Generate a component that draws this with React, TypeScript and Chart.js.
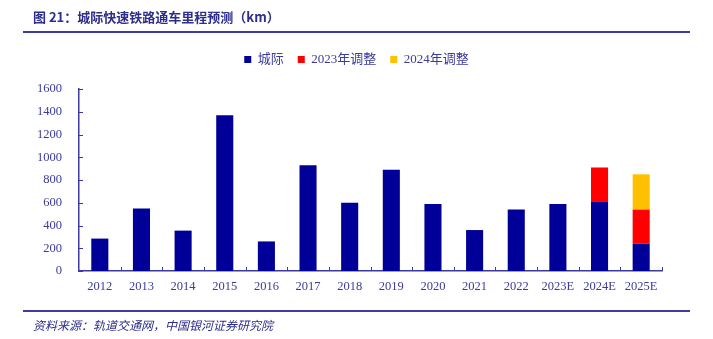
import React, { useEffect, useRef } from "react";
import { Chart, registerables } from "chart.js";

Chart.register(...registerables);

const categories = ["2012", "2013", "2014", "2015", "2016", "2017", "2018", "2019", "2020", "2021", "2022", "2023E", "2024E", "2025E"];
const intercity = [285, 550, 355, 1370, 260, 930, 600, 890, 590, 360, 540, 590, 610, 240];
const adjust2023 = [null, null, null, null, null, null, null, null, null, null, null, null, 300, 300];
const adjust2024 = [null, null, null, null, null, null, null, null, null, null, null, null, null, 310];
const seriesNames = ["城际", "2023年调整", "2024年调整"];
const yTicks = [0, 200, 400, 600, 800, 1000, 1200, 1400, 1600];

const AXIS = "#3a3aa0";
const TEXT = "#3b3b9a";
const FONT = "'Liberation Serif', 'Noto Sans CJK SC', serif";

const innerTicks = {
  id: "innerTicks",
  afterDraw(chart: any) {
    const { ctx, chartArea } = chart;
    const x = chart.scales.x;
    const y = chart.scales.y;
    ctx.save();
    ctx.strokeStyle = AXIS;
    ctx.lineWidth = 1;
    ctx.beginPath();
    yTicks.forEach((v) => {
      const py = Math.round(y.getPixelForValue(v)) + 0.5;
      ctx.moveTo(chartArea.left, py);
      ctx.lineTo(chartArea.left + 4, py);
    });
    const half = (x.getPixelForValue(1) - x.getPixelForValue(0)) / 2;
    for (let i = 0; i < categories.length; i++) {
      const px = Math.round(x.getPixelForValue(i) + half) + 0.5;
      ctx.moveTo(px, chartArea.bottom);
      ctx.lineTo(px, chartArea.bottom - 4);
    }
    ctx.stroke();
    ctx.restore();
  },
};

export default function App() {
  const ref = useRef<HTMLCanvasElement | null>(null);
  useEffect(() => {
    if (!ref.current) return;
    const chart = new Chart(ref.current, {
      type: "bar",
      data: {
        labels: categories,
        datasets: [
          { label: seriesNames[0], data: intercity, backgroundColor: "#000099" },
          { label: seriesNames[1], data: adjust2023 as any, backgroundColor: "#ff0000" },
          { label: seriesNames[2], data: adjust2024 as any, backgroundColor: "#ffc000" },
        ],
      },
      options: {
        animation: false,
        responsive: false,
        datasets: { bar: { categoryPercentage: 1, barPercentage: 0.41 } } as any,
        layout: { padding: { top: 39, left: 0, right: 0, bottom: 0 } },
        plugins: {
          tooltip: { enabled: false },
          legend: {
            display: true,
            position: "top",
            weight: 3000,
            labels: {
              boxWidth: 7,
              boxHeight: 7,
              padding: 14,
              color: TEXT,
              font: { family: FONT, size: 13 },
            },
          } as any,
          title: {
            display: true,
            text: "",
            font: { size: 1, lineHeight: 1 },
            padding: { top: 0, bottom: 12 },
          },
        },
        scales: {
          x: {
            stacked: true,
            grid: { display: false },
            border: { display: true, color: AXIS, width: 1.5 },
            ticks: { color: TEXT, font: { family: FONT, size: 12.5 }, padding: 0, maxRotation: 0, autoSkip: false },
            afterFit: (s: any) => { s.height = 68; },
          },
          y: {
            stacked: true,
            min: 0,
            max: 1600,
            grid: { display: false },
            border: { display: true, color: AXIS, width: 1.5 },
            ticks: {
              stepSize: 200,
              color: TEXT,
              font: { family: FONT, size: 12.5 },
              padding: 9,
              callback: (v: any) => String(v),
            },
            afterFit: (s: any) => { s.width = 79; },
          },
          yR: {
            position: "right",
            display: true,
            grid: { display: false },
            border: { display: false },
            ticks: { display: false },
            afterFit: (s: any) => { s.width = 51; },
          },
        },
      },
      plugins: [innerTicks],
    });
    return () => chart.destroy();
  }, []);

  return (
    <div style={{ position: "fixed", left: 0, top: 0, width: 713, height: 339, background: "#fff", overflow: "hidden" }}>
      <canvas ref={ref} width={713} height={339} style={{ position: "absolute", left: 0, top: 0, width: 713, height: 339 }} />
      <div style={{ position: "absolute", left: 33, top: 8, fontFamily: "'Noto Sans CJK SC', sans-serif", fontWeight: 700, fontSize: 13, color: "#2d2d8c", whiteSpace: "nowrap", lineHeight: "18px" }}>
        图 21：城际快速铁路通车里程预测（km）
      </div>
      <div style={{ position: "absolute", left: 23, top: 31, width: 667, height: 2, background: "#3d3d9e" }} />
      <div style={{ position: "absolute", left: 23, top: 310, width: 667, height: 2, background: "#3d3d9e" }} />
      <div style={{ position: "absolute", left: 33, top: 316, fontFamily: "'Noto Sans CJK SC', sans-serif", fontStyle: "italic", fontSize: 12, color: "#2d2d8c", whiteSpace: "nowrap", lineHeight: "17px" }}>
        资料来源：轨道交通网，中国银河证券研究院
      </div>
    </div>
  );
}
